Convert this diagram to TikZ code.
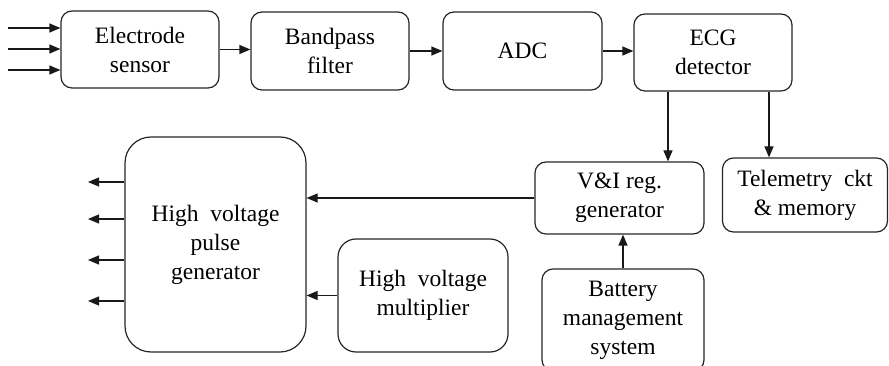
\documentclass[tikz,border=0pt]{standalone}
\usepackage{fontspec}
\setmainfont{Liberation Serif}
\usetikzlibrary{arrows.meta}
\begin{document}
\begin{tikzpicture}[x=1pt,y=-1pt,
  blk/.style={draw=black!85, line width=1.2pt, rounded corners=11pt, align=center,
    inner sep=0pt, font=\fontsize{23.5}{29}\selectfont},
  arr/.style={draw=black!90, line width=1.2pt, -{Triangle[length=11pt,width=9pt]}}]
\useasboundingbox (0,0) rectangle (889,366);
\clip (0,0) rectangle (889,366);
\node[blk, minimum width=158pt, minimum height=77pt] (e) at (140,49.5) {Electrode\\sensor};
\node[blk, minimum width=158pt, minimum height=78pt] (b) at (330,51) {Bandpass\\filter};
\node[blk, minimum width=159pt, minimum height=78pt] (adc) at (522.5,51) {ADC};
\node[blk, minimum width=158pt, minimum height=77pt] (ecg) at (713,52.5) {ECG\\detector};
\node[blk, minimum width=169pt, minimum height=72pt] (vi) at (619.5,198) {V\&I reg.\\generator};
\node[blk, minimum width=165pt, minimum height=74pt] (tel) at (805,195) {Telemetry\ \ ckt\\\& memory};
\node[blk, minimum width=162pt, minimum height=102pt] (bat) at (623,320) {Battery\\management\\system};
\node[blk, rounded corners=26pt, minimum width=181pt, minimum height=215pt] (hv) at (215.5,244.5) {High\ \ voltage\\pulse\\generator};
\node[blk, rounded corners=18pt, minimum width=170pt, minimum height=113pt] (hm) at (423,295.5) {High\ \ voltage\\multiplier};
\coordinate (i1) at (8,28);
\coordinate (i2) at (8,49);
\coordinate (i3) at (8,70);
\draw[arr] (i1) -- (i1 -| e.west);
\draw[arr] (i2) -- (i2 -| e.west);
\draw[arr] (i3) -- (i3 -| e.west);
\draw[arr] (e.east) -- (e.east -| b.west);
\draw[arr] (b.east) -- (b.east -| adc.west);
\draw[arr] (adc.east) -- (adc.east -| ecg.west);
\draw[arr] ([xshift=-45pt]ecg.south) -- ([xshift=-45pt]ecg.south |- vi.north);
\draw[arr] ([xshift=56pt]ecg.south) -- ([xshift=56pt]ecg.south |- tel.north);
\draw[arr] (vi.west) -- (vi.west -| hv.east);
\draw[arr] (bat.north) -- (bat.north |- vi.south);
\draw[arr] (hm.west) -- (hm.west -| hv.east);
\coordinate (o1) at (88,182);
\coordinate (o2) at (88,219);
\coordinate (o3) at (88,260);
\coordinate (o4) at (88,301);
\draw[arr] (o1 -| hv.west) -- (o1);
\draw[arr] (o2 -| hv.west) -- (o2);
\draw[arr] (o3 -| hv.west) -- (o3);
\draw[arr] (o4 -| hv.west) -- (o4);
\end{tikzpicture}
\end{document}
